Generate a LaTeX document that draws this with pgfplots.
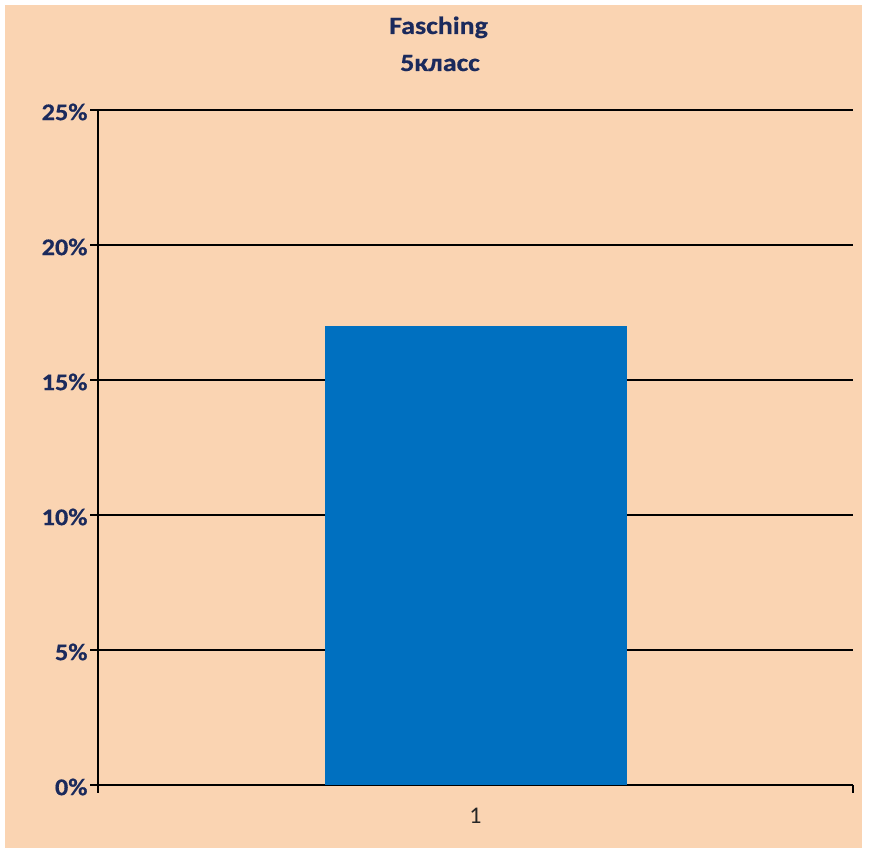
\documentclass[border=0pt]{standalone}
\usepackage{pgfplots}
\pgfplotsset{compat=1.18}
\usepackage{fontspec}
\setmainfont{Carlito}
\newfontfamily\titlefont[FakeStretch=1.12,FakeBold=0.6]{Carlito}
\newfontfamily\tickfont[FakeStretch=1.1,FakeBold=0.5]{Carlito}
\definecolor{peach}{HTML}{FAD4B2}
\definecolor{navy}{HTML}{1B2A5C}
\definecolor{barblue}{HTML}{0070C0}
\begin{document}
\begin{tikzpicture}[x=1bp,y=1bp]
\fill[white] (0,0) rectangle (873,854);
\fill[peach] (5,6) rectangle (862,849);
\node[font=\titlefont\fontsize{25}{28}\selectfont\bfseries, text=navy, anchor=base] at (438.5,820) {Fasching};
\node[font=\titlefont\fontsize{25}{28}\selectfont\bfseries, text=navy, anchor=base] at (440,783) {5класс};
\begin{axis}[
  at={(98bp,69bp)}, anchor=south west,
  scale only axis, width=755bp, height=675bp,
  xmin=0.5, xmax=1.5, ymin=0, ymax=25,
  axis lines*=left,
  axis line style={black, line width=1.2pt},
  ytick={0,5,10,15,20,25},
  yticklabel={\pgfmathprintnumber{\tick}\%},
  yticklabel style={font=\tickfont\fontsize{24}{26}\selectfont\bfseries, text=navy, yshift=-2bp, xshift=1bp},
  /pgf/number format/assume math mode=true,
  xtick={1}, xticklabels={1},
  xticklabel style={font=\fontsize{24}{26}\selectfont, text=black!85, yshift=-12bp},
  minor xtick={0.5,1.5},
  ymajorgrids, major grid style={black, line width=1.2pt},
  major tick length=8bp, minor tick length=8bp,
  tick align=outside,
  x tick style={draw=none},
  minor x tick style={draw=black, line width=1.2pt},
  y tick style={black, line width=1.2pt},
  bar width=302bp,
]
\addplot[ybar, fill=barblue, draw=none] coordinates {(1,17)};
\end{axis}
\end{tikzpicture}
\end{document}
